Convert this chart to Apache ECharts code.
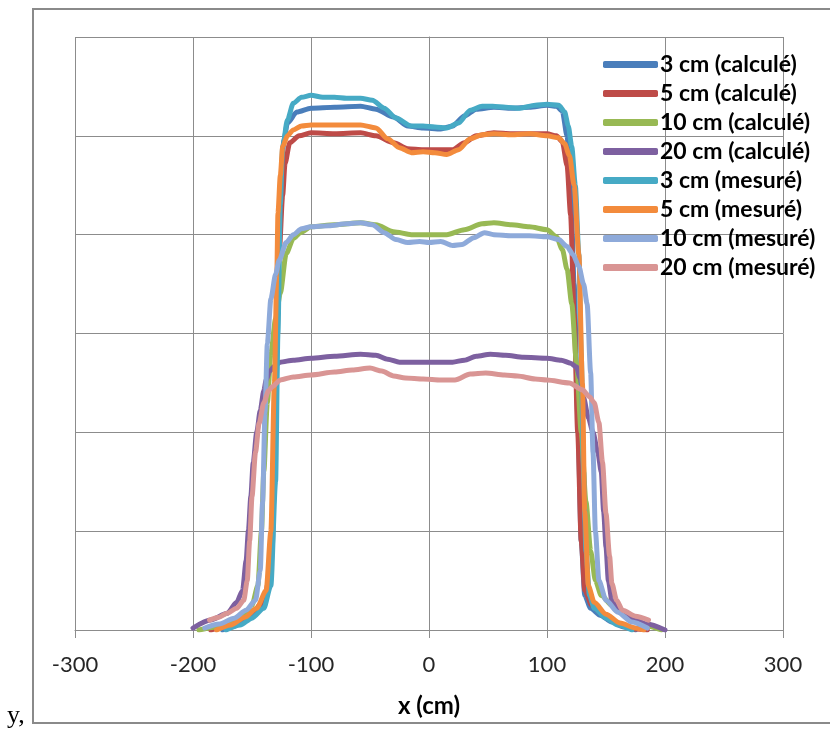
<!DOCTYPE html>
<html>
<head>
<meta charset="utf-8">
<script src="https://cdn.jsdelivr.net/npm/echarts@6/dist/echarts.min.js"></script>
<style>
html,body{margin:0;padding:0;background:#fff;}
#c{width:830px;height:730px;}
</style>
</head>
<body>
<div id="c"></div>
<script>
const seriesNames = ['3 cm (calculé)','5 cm (calculé)','10 cm (calculé)','20 cm (calculé)','3 cm (mesuré)','5 cm (mesuré)','10 cm (mesuré)','20 cm (mesuré)'];
const seriesColors = ['#4A7EBB','#BE4B48','#98B954','#7D60A0','#46AAC5','#F38B3C','#8EAADA','#D99594'];
const xTicks = [-300,-200,-100,0,100,200,300];

const calc3 = [[-175,0],[-165,0.04],[-155,0.1],[-145,0.2],[-138,0.35],[-133,0.8],[-130,2.0],[-128,3.5],[-126,4.5],[-123,4.95],[-120,5.13],[-112,5.24],[-100,5.28],[-80,5.29],[-58,5.30],[-45,5.27],[-30,5.19],[-18,5.1],[-5,5.08],[10,5.07],[20,5.1],[30,5.2],[40,5.27],[55,5.29],[70,5.28],[85,5.29],[100,5.31],[108,5.3],[113,5.25],[117,5.0],[120,4.5],[123,3.5],[126,2.2],[129,0.9],[132,0.35],[137,0.22],[145,0.15],[155,0.08],[165,0.03],[175,0]];
const calc5 = [[-185,0],[-170,0.04],[-158,0.12],[-148,0.2],[-140,0.3],[-134,0.6],[-131,1.5],[-129,2.8],[-127,3.8],[-124,4.4],[-122,4.72],[-118,4.93],[-110,5.0],[-100,5.03],[-80,5.02],[-58,5.03],[-45,5.0],[-30,4.93],[-18,4.87],[-5,4.86],[10,4.86],[20,4.86],[30,4.93],[40,5.0],[55,5.03],[70,5.02],[85,5.02],[100,5.02],[108,5.0],[113,4.94],[117,4.7],[120,4.2],[123,3.2],[126,2.0],[129,0.9],[132,0.4],[138,0.25],[148,0.15],[160,0.06],[175,0.01],[185,0]];
const calc10 = [[-195,0],[-180,0.03],[-167,0.08],[-158,0.14],[-150,0.25],[-145,0.45],[-142,1.0],[-140,1.6],[-137,2.3],[-134,2.8],[-130,3.15],[-126,3.41],[-121,3.81],[-115,3.96],[-109,4.02],[-100,4.08],[-80,4.1],[-58,4.12],[-45,4.1],[-30,4.03],[-15,4.0],[0,4.0],[15,4.0],[30,4.05],[45,4.11],[55,4.12],[70,4.1],[85,4.08],[100,4.05],[108,3.98],[113,3.85],[117,3.65],[121,3.3],[125,2.7],[129,2.0],[133,1.3],[137,0.8],[141,0.5],[146,0.35],[155,0.25],[170,0.12],[185,0.04],[197,0]];
const calc20 = [[-200,0.02],[-185,0.1],[-171,0.17],[-163,0.28],[-158,0.4],[-155,0.7],[-153,1.01],[-151,1.35],[-149,1.69],[-146,2.0],[-143,2.22],[-140,2.42],[-138,2.53],[-135,2.62],[-130,2.68],[-126,2.71],[-115,2.73],[-100,2.75],[-80,2.77],[-58,2.79],[-45,2.78],[-35,2.74],[-25,2.71],[-10,2.71],[5,2.71],[20,2.71],[30,2.73],[40,2.77],[52,2.79],[65,2.78],[80,2.76],[100,2.75],[112,2.73],[120,2.7],[125,2.66],[128,2.55],[131,2.35],[135,2.15],[139,2.0],[143,1.8],[146,1.6],[148,1.2],[150,0.84],[152,0.5],[155,0.3],[160,0.2],[170,0.13],[185,0.06],[200,0]];
const meas3 = [[-172,0],[-160,0.05],[-150,0.12],[-140,0.22],[-134,0.45],[-130,1.5],[-128,3.0],[-126,4.3],[-124,4.89],[-120,5.16],[-115,5.33],[-108,5.39],[-100,5.41],[-90,5.39],[-80,5.39],[-70,5.38],[-58,5.38],[-48,5.36],[-38,5.28],[-28,5.18],[-15,5.1],[-5,5.1],[5,5.09],[15,5.08],[25,5.13],[35,5.26],[45,5.3],[54,5.3],[65,5.29],[77,5.28],[90,5.31],[100,5.32],[110,5.31],[115,5.24],[118,5.1],[121,4.89],[124,4.5],[127,3.8],[129,2.8],[131,1.6],[133,0.8],[136,0.35],[140,0.22],[150,0.12],[160,0.05],[172,0]];
const meas5 = [[-180,0],[-168,0.05],[-156,0.13],[-146,0.22],[-138,0.4],[-134,1.0],[-131,2.5],[-129,3.6],[-128,4.22],[-126,4.6],[-124,4.89],[-120,5.0],[-115,5.06],[-108,5.1],[-100,5.11],[-80,5.11],[-58,5.11],[-45,5.08],[-35,4.97],[-25,4.88],[-15,4.83],[-5,4.84],[5,4.83],[15,4.81],[25,4.86],[35,4.97],[45,5.01],[55,5.02],[70,5.01],[85,5.02],[100,5.0],[110,4.98],[115,4.92],[119,4.8],[123,4.5],[127,3.8],[130,2.5],[132,1.2],[135,0.45],[140,0.28],[150,0.16],[162,0.07],[175,0.02],[182,0]];
const meas10 = [[-190,0.02],[-178,0.06],[-165,0.12],[-155,0.2],[-147,0.3],[-143,0.6],[-141,1.3],[-139,2.2],[-137,2.9],[-134,3.35],[-130,3.6],[-127,3.74],[-121,3.92],[-115,4.0],[-108,4.06],[-100,4.08],[-85,4.09],[-70,4.11],[-58,4.12],[-48,4.1],[-38,4.02],[-28,3.95],[-18,3.92],[-8,3.93],[0,3.92],[10,3.93],[20,3.89],[28,3.9],[38,3.97],[47,4.02],[55,4.0],[70,3.99],[85,3.99],[100,3.98],[110,3.95],[117,3.88],[122,3.8],[127,3.68],[131,3.5],[134,3.3],[137,2.6],[139,1.8],[141,1.0],[144,0.5],[150,0.3],[160,0.18],[172,0.08],[185,0.02]];
const meas20 = [[-186,0.1],[-178,0.13],[-171,0.17],[-163,0.22],[-157,0.3],[-154,0.5],[-152,0.9],[-150,1.35],[-147,1.8],[-144,2.09],[-140,2.3],[-136,2.42],[-133,2.46],[-126,2.53],[-115,2.56],[-100,2.58],[-80,2.61],[-65,2.63],[-50,2.65],[-40,2.62],[-30,2.57],[-20,2.55],[-5,2.54],[10,2.53],[22,2.53],[35,2.59],[48,2.6],[64,2.58],[75,2.57],[90,2.54],[100,2.53],[119,2.5],[130,2.43],[136,2.36],[140,2.3],[144,2.1],[147,1.7],[150,1.18],[153,0.75],[155,0.47],[159,0.3],[164,0.2],[175,0.14],[186,0.1]];

const seriesData = [calc3, calc5, calc10, calc20, meas3, meas5, meas10, meas20];

const chart = echarts.init(document.getElementById('c'), null, {renderer:'canvas'});
const font = 'Lato, "Open Sans", sans-serif';
chart.setOption({
  animation: false,
  backgroundColor: '#ffffff',
  grid: {left: 75, right: 47, top: 37, bottom: 100},
  xAxis: {
    type: 'value', min: -300, max: 300, interval: 100,
    axisLine: {show: true, lineStyle: {color: '#8c8c8c', width: 1}},
    axisTick: {show: true, length: 8, lineStyle: {color: '#8c8c8c'}},
    splitLine: {show: true, lineStyle: {color: '#8c8c8c', width: 1}},
    axisLabel: {color: '#262626', fontSize: 22, fontFamily: font, margin: 24,
      formatter: v => xTicks.includes(v) ? String(v) : ''},
    name: 'x (cm)', nameLocation: 'middle', nameGap: 64,
    nameTextStyle: {color: '#000', fontSize: 24, fontWeight: 'bold', fontFamily: font}
  },
  yAxis: {
    type: 'value', min: 0, max: 6, interval: 1,
    axisLine: {show: true, lineStyle: {color: '#8c8c8c', width: 1}},
    axisTick: {show: false},
    axisLabel: {show: false},
    splitLine: {show: true, lineStyle: {color: '#8c8c8c', width: 1}}
  },
  legend: {
    orient: 'vertical', left: 598, top: 48,
    itemWidth: 55, itemHeight: 7, itemGap: 6,
    icon: 'roundRect',
    textStyle: {color: '#000', fontSize: 23, fontWeight: 'bold', fontFamily: font, lineHeight: 23, padding: [0,0,0,-3]},
    data: seriesNames
  },
  graphic: [
    {type: 'rect', shape: {x: 33, y: 9, width: 800, height: 714}, style: {fill: 'none', stroke: '#8a8a8a', lineWidth: 2}, z: 100},
    {type: 'text', left: 7, top: 703, style: {text: 'y,', font: '26px "Liberation Serif", serif', fill: '#000'}}
  ],
  series: seriesData.map((d, i) => ({
    name: seriesNames[i], type: 'line', data: d, showSymbol: false, symbol: 'none',
    smooth: 0.25, smoothMonotone: 'x', color: seriesColors[i],
    lineStyle: {width: 5, color: seriesColors[i], cap: 'round', join: 'round'}
  }))
});
</script>
</body>
</html>
